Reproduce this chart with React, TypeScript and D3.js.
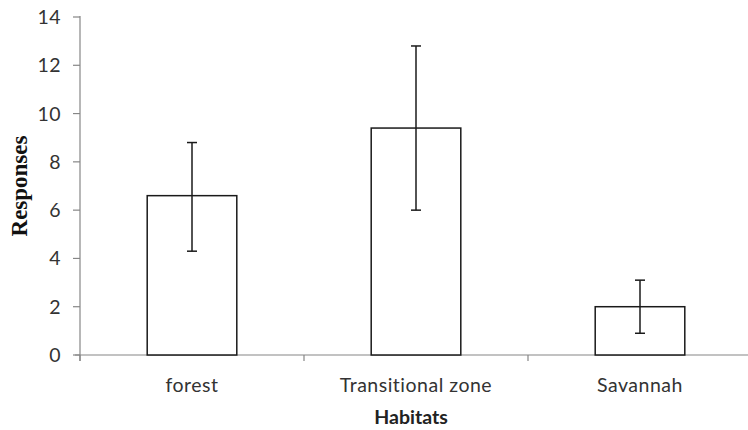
import React from "react";
import * as d3 from "d3";

const categories = ["forest", "Transitional zone", "Savannah"];
const means = [6.6, 9.4, 2.0];
const upper = [8.8, 12.8, 3.1];
const lower = [4.3, 6.0, 0.9];
const yTicks = [0, 2, 4, 6, 8, 10, 12, 14];

const W = 748;
const H = 430;
const M = { left: 80, right: -4, top: 17, bottom: 75 };

export default function App() {
  const x = d3
    .scaleBand<string>()
    .domain(categories)
    .range([M.left, W - M.right])
    .paddingInner(0.6)
    .paddingOuter(0.3);
  const band = d3.scaleBand<string>().domain(categories).range([M.left, W - M.right]);
  const y = d3.scaleLinear().domain([0, 14]).range([H - M.bottom, M.top]);
  const y0 = y(0);
  const axisColor = "#868686";
  const tickFont = "Lato, 'Open Sans', sans-serif";
  const boundaries = [M.left, ...categories.map((c) => (band(c) as number) + band.bandwidth())];

  return (
    <svg width={W} height={H} style={{ position: "absolute", left: 0, top: 0, background: "#fff" }}>
      {/* y axis */}
      <line x1={M.left} x2={M.left} y1={M.top - 1} y2={y0 + 6} stroke={axisColor} strokeWidth={1.2} />
      {yTicks.map((t) => (
        <g key={t}>
          <line x1={M.left - 7} x2={M.left} y1={y(t)} y2={y(t)} stroke={axisColor} strokeWidth={1.2} />
          <text x={M.left - 19} y={y(t)} dy="0.36em" textAnchor="end" fontFamily={tickFont} fontSize={19.5} letterSpacing={0.5} fill="#333">
            {t}
          </text>
        </g>
      ))}
      {/* x axis */}
      <line x1={M.left - 5} x2={W} y1={y0} y2={y0} stroke={axisColor} strokeWidth={1.2} />
      {boundaries.map((b, i) => (
        <line key={i} x1={b} x2={b} y1={y0} y2={y0 + 6} stroke={axisColor} strokeWidth={1.2} />
      ))}
      {/* bars */}
      {categories.map((c, i) => {
        const bx = x(c) as number;
        const cx = bx + x.bandwidth() / 2;
        return (
          <g key={c}>
            <rect x={bx} y={y(means[i])} width={x.bandwidth()} height={y0 - y(means[i])} fill="#fff" stroke="#1a1a1a" strokeWidth={1.5} />
            <line x1={cx} x2={cx} y1={y(upper[i])} y2={y(lower[i])} stroke="#1a1a1a" strokeWidth={1.5} />
            <line x1={cx - 5} x2={cx + 5} y1={y(upper[i])} y2={y(upper[i])} stroke="#1a1a1a" strokeWidth={1.5} />
            <line x1={cx - 5} x2={cx + 5} y1={y(lower[i])} y2={y(lower[i])} stroke="#1a1a1a" strokeWidth={1.5} />
            <text x={(band(c) as number) + band.bandwidth() / 2} y={y0 + 37} textAnchor="middle" fontFamily={tickFont} fontSize={19.5} letterSpacing={0.5} fill="#333">
              {c}
            </text>
          </g>
        );
      })}
      <text x={(M.left + W) / 2 - 3} y={y0 + 69} textAnchor="middle" fontFamily={tickFont} fontWeight="bold" fontSize={19.5} fill="#222">
        Habitats
      </text>
      <text
        transform={`translate(27, ${(y0 + M.top) / 2}) rotate(-90)`}
        textAnchor="middle"
        fontFamily="'Liberation Serif', 'Times New Roman', serif"
        fontWeight="bold"
        fontSize={23}
        fill="#111"
      >
        Responses
      </text>
    </svg>
  );
}
